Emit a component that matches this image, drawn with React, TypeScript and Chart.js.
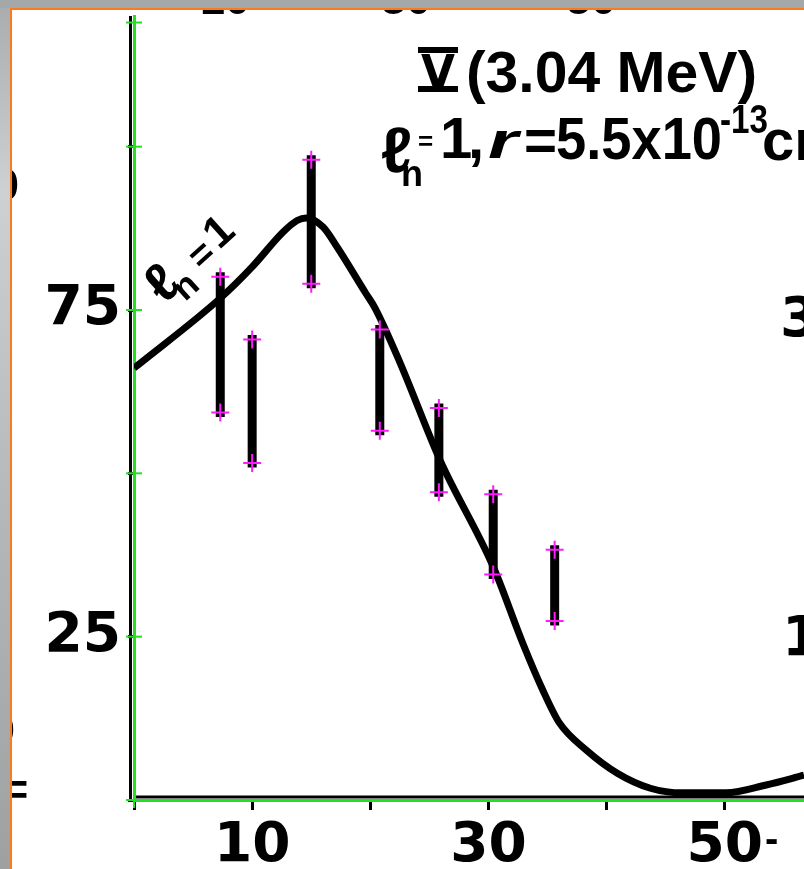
import React, { useEffect, useRef } from "react";
import { Chart, registerables } from "chart.js";

Chart.register(...registerables);

// ---- data ----
const curveX = [0, 7.3, 10, 12.6, 13.8, 14.6, 16, 17.2, 19.6, 20.4, 22.5, 25.9, 30.4, 32.9, 34.6, 36, 38.3, 40.9, 43.7, 46.4, 50.1, 53.5, 56.7];
const curveY = [66.1, 76.8, 81.6, 86.9, 88.7, 89.1, 87.7, 84.6, 77.6, 75.3, 67, 52, 35.7, 24, 16.8, 11.8, 7.6, 4.1, 1.8, 1.1, 1.1, 2.3, 3.8];

const barX = [7.3, 10, 15, 20.8, 25.8, 30.4, 35.6];
const barLow = [59.3, 51.6, 79.0, 56.5, 47.1, 34.5, 27.4];
const barHigh = [80.1, 70.5, 98.0, 72.0, 60.0, 46.8, 38.3];

const xLabelValues = [10, 30, 50];
const yLabelValues = [25, 75];

const titleLine = "Ⅴ(3.04 MeV)";
const curveLabel = "ℓn=1";

const FONT = '"Liberation Sans", Arial, "DejaVu Sans", sans-serif';
const TICK_FONT = '"DejaVu Sans", sans-serif';
const GREEN = "#22e022";
const MAGENTA = "#ff1aff";

function txt(ctx: CanvasRenderingContext2D, s: string, x: number, base: number, size: number, w?: number, italic?: boolean, family?: string) {
  ctx.font = `${italic ? "italic " : ""}bold ${size}px ${family || FONT}`;
  const m = ctx.measureText(s).width;
  ctx.save();
  ctx.translate(x, base);
  if (w) ctx.scale(w / m, 1);
  ctx.fillText(s, 0, 0);
  ctx.restore();
}

const annotate = {
  id: "annotate",
  beforeDraw(chart: any) {
    const { ctx, chartArea: a } = chart;
    ctx.save();
    ctx.strokeStyle = "#000";
    ctx.lineWidth = 3;
    ctx.beginPath();
    ctx.moveTo(a.left - 3.5, a.top);
    ctx.lineTo(a.left - 3.5, a.bottom);
    ctx.stroke();
    ctx.beginPath();
    ctx.moveTo(a.left, a.bottom - 3);
    ctx.lineTo(a.right, a.bottom - 3);
    ctx.stroke();
    ctx.restore();
  },
  afterDraw(chart: any) {
    const { ctx, chartArea: a, scales } = chart;
    const ys = scales.y;
    ctx.save();
    // green digitiser crosses on the y axis
    ctx.strokeStyle = GREEN;
    ctx.lineWidth = 2;
    const crossVals = ys.ticks.map((t: any) => t.value).concat([119]);
    crossVals.forEach((v: number) => {
      const py = ys.getPixelForValue(v);
      ctx.beginPath();
      ctx.moveTo(a.left - 8, py);
      ctx.lineTo(a.left + 8, py);
      ctx.stroke();
    });
    ctx.beginPath();
    ctx.moveTo(a.left, a.bottom - 8);
    ctx.lineTo(a.left, a.bottom + 8);
    ctx.stroke();

    // texts, clipped to the white sheet
    ctx.beginPath();
    ctx.rect(12, 10, 792, 859);
    ctx.clip();
    ctx.fillStyle = "#000";
    ctx.textAlign = "left";
    ctx.textBaseline = "alphabetic";

    // title line 1
    txt(ctx, titleLine.slice(0, 1), 421, 88, 47, 34);
    ctx.fillRect(418, 47, 40, 6);
    ctx.fillRect(418, 86, 40, 6);
    txt(ctx, titleLine.slice(1), 466, 92, 58, 291);

    // title line 2
    txt(ctx, "ℓ", 381, 172, 64);
    txt(ctx, "n", 401, 186, 36);
    txt(ctx, "=", 418, 150, 26);
    txt(ctx, "1", 440, 158, 58);
    txt(ctx, ",", 468, 158, 58);
    txt(ctx, "r", 488, 158, 50, 30, true);
    txt(ctx, "=", 524, 160, 58, 33);
    txt(ctx, "5.5x10", 556, 159, 60, 166);
    txt(ctx, "-13", 720, 133, 40, 48);
    txt(ctx, "cm", 762, 160, 58);

    // rotated curve label
    ctx.save();
    ctx.translate(158, 305);
    ctx.rotate((-42 * Math.PI) / 180);
    txt(ctx, curveLabel.slice(0, 1), 4, 4, 54);
    txt(ctx, curveLabel.slice(1, 2), 22, 16, 36);
    txt(ctx, curveLabel.slice(2, 3), 55, 4, 38);
    txt(ctx, curveLabel.slice(3), 82, 0, 44);
    ctx.restore();

    // fragments of neighbouring panels cut by the crop
    txt(ctx, "3", 780, 336, 56, undefined, false, TICK_FONT);
    txt(ctx, "1", 782, 655, 56, undefined, false, TICK_FONT);
    txt(ctx, "10", 200, 14, 45);
    txt(ctx, "30", 381, 14, 45);
    txt(ctx, "50", 566, 14, 45);
    txt(ctx, "0", -6, 200, 45);
    txt(ctx, "0", -10, 745, 45);
    txt(ctx, "=", 2, 805, 45);
    txt(ctx, "-", 765, 852, 40);
    ctx.restore();
  },
};

export default function App() {
  const ref = useRef<HTMLCanvasElement | null>(null);

  useEffect(() => {
    if (!ref.current) return;
    const curve = curveX.map((x, i) => ({ x, y: curveY[i] }));
    const bars = barX.map((x, i) => ({
      type: "line" as const,
      data: [
        { x, y: barLow[i] },
        { x, y: barHigh[i] },
      ],
      borderColor: "#000",
      borderWidth: 9,
      borderCapStyle: "square" as const,
      pointRadius: 0,
      showLine: true,
      order: 1,
    }));
    const ends = barX.flatMap((x, i) => [
      { x, y: barLow[i] },
      { x, y: barHigh[i] },
    ]);

    const zeroPad = (s: any) => {
      s.paddingTop = 0;
      s.paddingBottom = 0;
      s.paddingLeft = 0;
      s.paddingRight = 0;
    };

    const chart = new Chart(ref.current, {
      type: "scatter",
      data: {
        datasets: [
          {
            type: "scatter",
            data: ends,
            pointStyle: "cross",
            pointRadius: 9,
            borderWidth: 2,
            borderColor: MAGENTA,
            backgroundColor: MAGENTA,
            order: 0,
          } as any,
          ...bars,
          {
            type: "line",
            data: curve,
            borderColor: "#000",
            borderWidth: 7,
            pointRadius: 0,
            cubicInterpolationMode: "monotone",
            fill: false,
            order: 2,
          } as any,
        ],
      },
      options: {
        animation: false,
        responsive: false,
        layout: { autoPadding: false, padding: { top: 16, left: 0, right: 0, bottom: 0 } },
        plugins: { legend: { display: false }, tooltip: { enabled: false } },
        scales: {
          x: {
            type: "linear",
            min: 0,
            max: 56.7,
            ticks: {
              stepSize: 10,
              includeBounds: false,
              autoSkip: false,
              maxRotation: 0,
              padding: 4,
              color: "#000",
              font: { family: TICK_FONT, size: 55, weight: "bold" },
              callback: (v: any) => (xLabelValues.includes(Number(v)) ? String(v) : ""),
            },
            grid: { drawOnChartArea: false, drawTicks: true, tickLength: 10, tickColor: "#000", tickWidth: 3 },
            border: { display: true, color: GREEN, width: 3 },
            afterFit: (s: any) => {
              s.height = 69;
              zeroPad(s);
            },
          },
          y: {
            type: "linear",
            min: 0,
            max: 120,
            ticks: {
              stepSize: 25,
              includeBounds: false,
              autoSkip: false,
              padding: 7,
              color: "#000",
              font: { family: TICK_FONT, size: 55, weight: "bold" },
              callback: (v: any) => (yLabelValues.includes(Number(v)) ? String(v) : ""),
            },
            grid: { drawOnChartArea: false, drawTicks: true, tickLength: 6, tickColor: "#000", tickWidth: 3 },
            border: { display: true, color: GREEN, width: 3 },
            afterFit: (s: any) => {
              s.width = 134;
              zeroPad(s);
            },
          },
        },
      },
      plugins: [annotate],
    } as any);
    return () => chart.destroy();
  }, []);

  return (
    <div
      style={{
        position: "fixed",
        left: 0,
        top: 0,
        width: 804,
        height: 869,
        overflow: "hidden",
        background: "linear-gradient(to bottom, #a9acac 0%, #cdd1d1 22%, #b4b7b7 60%, #9fa1a1 100%)",
      }}
    >
      <div style={{ position: "absolute", left: 0, top: 0, width: 804, height: 8, background: "#a5a8a8" }} />
      <div
        style={{
          position: "absolute",
          left: 10,
          top: 8,
          right: 0,
          bottom: 0,
          background: "#fff",
          borderLeft: "2px solid #fb7a1e",
          borderTop: "2px solid #fb7a1e",
        }}
      />
      <canvas
        ref={ref}
        width={804}
        height={869}
        style={{ position: "absolute", left: 0, top: 0, width: 804, height: 869 }}
      />
    </div>
  );
}
